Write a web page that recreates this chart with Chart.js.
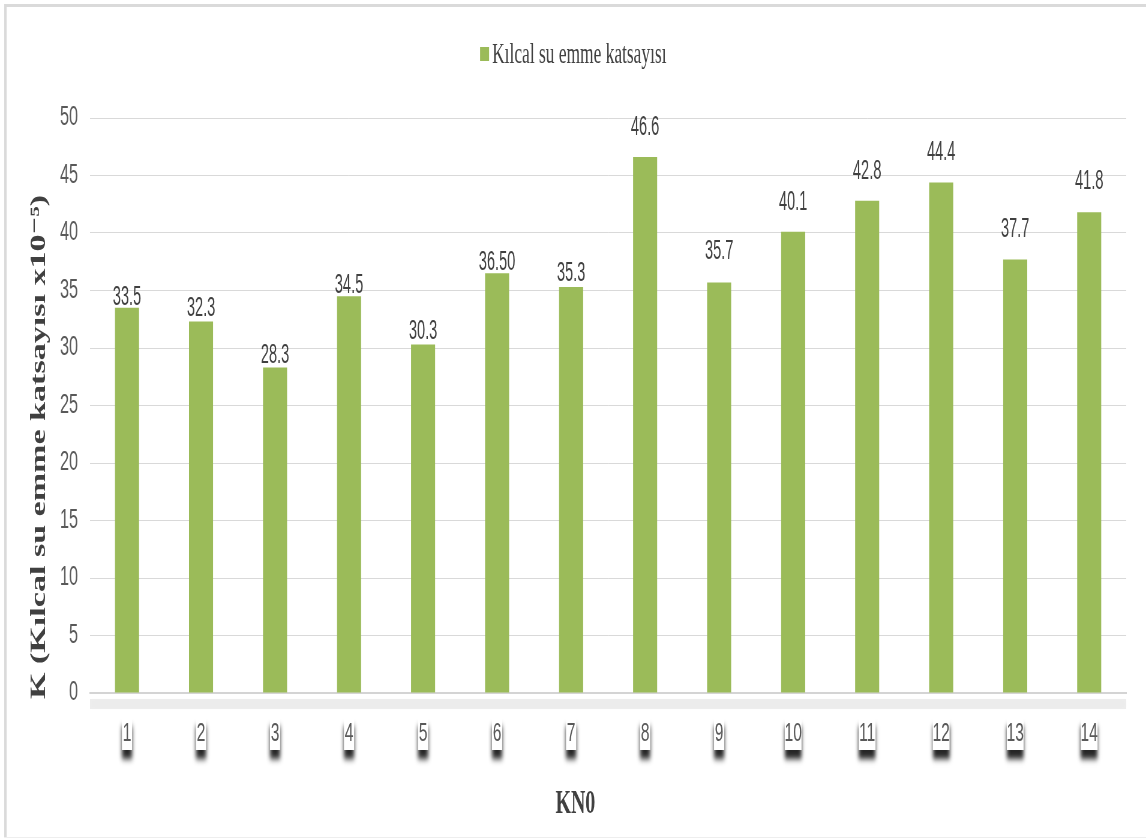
<!DOCTYPE html>
<html><head><meta charset="utf-8">
<script src="https://cdn.jsdelivr.net/npm/chart.js@4"></script>
<style>
html,body{margin:0;padding:0;background:#fff;overflow:hidden}
#wrap{width:1146px;height:839px;position:relative;overflow:hidden}
#c{display:block;transform:scaleX(0.6);transform-origin:0 0}
</style>
</head><body><div id="wrap"><canvas id="c" width="1910" height="839"></canvas></div>
<script>
const categories = ['1','2','3','4','5','6','7','8','9','10','11','12','13','14'];
const seriesName = 'Kılcal su emme katsayısı';
const values = [33.5,32.3,28.3,34.5,30.3,36.5,35.3,46.6,35.7,40.1,42.8,44.4,37.7,41.8];
const valueLabels = ['33.5','32.3','28.3','34.5','30.3','36.50','35.3','46.6','35.7','40.1','42.8','44.4','37.7','41.8'];
const yMin = 0, yMax = 50, yStep = 5;
const yTitle = 'K (Kılcal su emme katsayısı x10⁻⁵)';
const xTitle = 'KN0';

// label styling: gap (px) between bar top and value label baseline
const labelGap = [3, 6, 5, 3, 6, 3, 6, 22, 23, 22, 22, 22, 22, 23];

const SANS = "'Liberation Sans','Arimo',Arial,sans-serif";
const SERIF = "'Liberation Serif','DejaVu Serif',serif";
const BAR = '#9BBB59';

const deco = {
  id: 'deco',
  beforeDraw(chart) {
    const ctx = chart.ctx, a = chart.chartArea, xs = chart.scales.x;
    ctx.save();
    // outer frame
    ctx.fillStyle = '#DADADA';
    ctx.fillRect(7, 4, chart.width - 7, 3);
    ctx.fillRect(7, 4, 4, chart.height - 6);
    ctx.fillStyle = '#EEEEEE';
    ctx.fillRect(7, chart.height - 2, chart.width - 7, 1);
    // axis shadow band
    ctx.shadowColor = 'rgba(0,0,0,0.18)';
    ctx.shadowBlur = 6;
    ctx.fillStyle = 'rgba(0,0,0,0.07)';
    ctx.fillRect(a.left, a.bottom + 6, a.right - a.left, 10);
    // tick label boxes with shadow
    ctx.shadowColor = 'rgba(0,0,0,0.85)';
    ctx.shadowBlur = 6;
    ctx.shadowOffsetY = 9;
    ctx.fillStyle = '#ffffff';
    xs.ticks.forEach((t, i) => {
      const cx = xs.getPixelForTick(i);
      const w = categories[i].length > 1 ? 28 : 17;
      ctx.fillRect(cx - w / 2, a.bottom + 24, w, 33);
    });
    ctx.restore();
  },
  afterDatasetsDraw(chart) {
    const ctx = chart.ctx;
    const meta = chart.getDatasetMeta(0);
    ctx.save();
    ctx.fillStyle = '#404040';
    ctx.font = '27px ' + SANS;
    ctx.textAlign = 'center';
    ctx.textBaseline = 'alphabetic';
    meta.data.forEach((bar, i) => {
      ctx.save();
      ctx.translate(bar.x, bar.y - labelGap[i]);
      ctx.scale(0.9, 1);
      ctx.fillText(valueLabels[i], 0, 0);
      ctx.restore();
    });
    ctx.restore();
  },
  afterDraw(chart) {
    const ctx = chart.ctx;
    ctx.save();
    // legend
    ctx.font = '29px ' + SERIF;
    ctx.textBaseline = 'middle';
    const lw = ctx.measureText(seriesName).width;
    const groupW = 33 + lw;
    const lx = chart.width / 2 - groupW / 2 + 7;
    ctx.fillStyle = BAR;
    ctx.fillRect(lx, 47, 15, 14);
    ctx.fillStyle = '#404040';
    ctx.textAlign = 'left';
    ctx.fillText(seriesName, lx + 20, 55);
    // x title
    ctx.font = 'bold 33px ' + SERIF;
    ctx.textAlign = 'center';
    ctx.fillText(xTitle, chart.width / 2 + 4, 804);
    // y title
    ctx.font = 'bold 35px ' + SERIF;
    const tw = ctx.measureText(yTitle).width;
    ctx.translate(66, 447);
    ctx.rotate(-Math.PI / 2);
    ctx.scale(504 / tw, 1);
    ctx.textAlign = 'center';
    ctx.textBaseline = 'middle';
    ctx.fillStyle = '#404040';
    ctx.fillText(yTitle, 0, 0);
    ctx.restore();
  }
};

new Chart(document.getElementById('c'), {
  type: 'bar',
  data: {
    labels: categories,
    datasets: [{
      label: seriesName,
      data: values,
      backgroundColor: BAR,
      borderWidth: 0,
      barPercentage: 0.325,
      categoryPercentage: 1.0
    }]
  },
  options: {
    responsive: false,
    animation: false,
    devicePixelRatio: 1,
    layout: { padding: { top: 118, right: 33, bottom: 0, left: 0 } },
    plugins: { legend: { display: false }, tooltip: { enabled: false } },
    scales: {
      x: {
        grid: { display: false, drawTicks: false },
        border: { display: true, color: '#D4D4D4', width: 2 },
        ticks: { color: '#595959', font: { family: SANS, size: 26 }, padding: 25, maxRotation: 0 },
        title: { display: false, text: xTitle },
        afterFit(s) { s.height = 146; }
      },
      y: {
        min: yMin, max: yMax,
        grid: { color: '#D9D9D9', lineWidth: 1, drawTicks: false },
        border: { display: false },
        ticks: { stepSize: yStep, color: '#595959', font: { family: SANS, size: 27 }, padding: 20 },
        afterFit(s) { s.width = 150; }
      }
    }
  },
  plugins: [deco]
});
</script></body></html>
